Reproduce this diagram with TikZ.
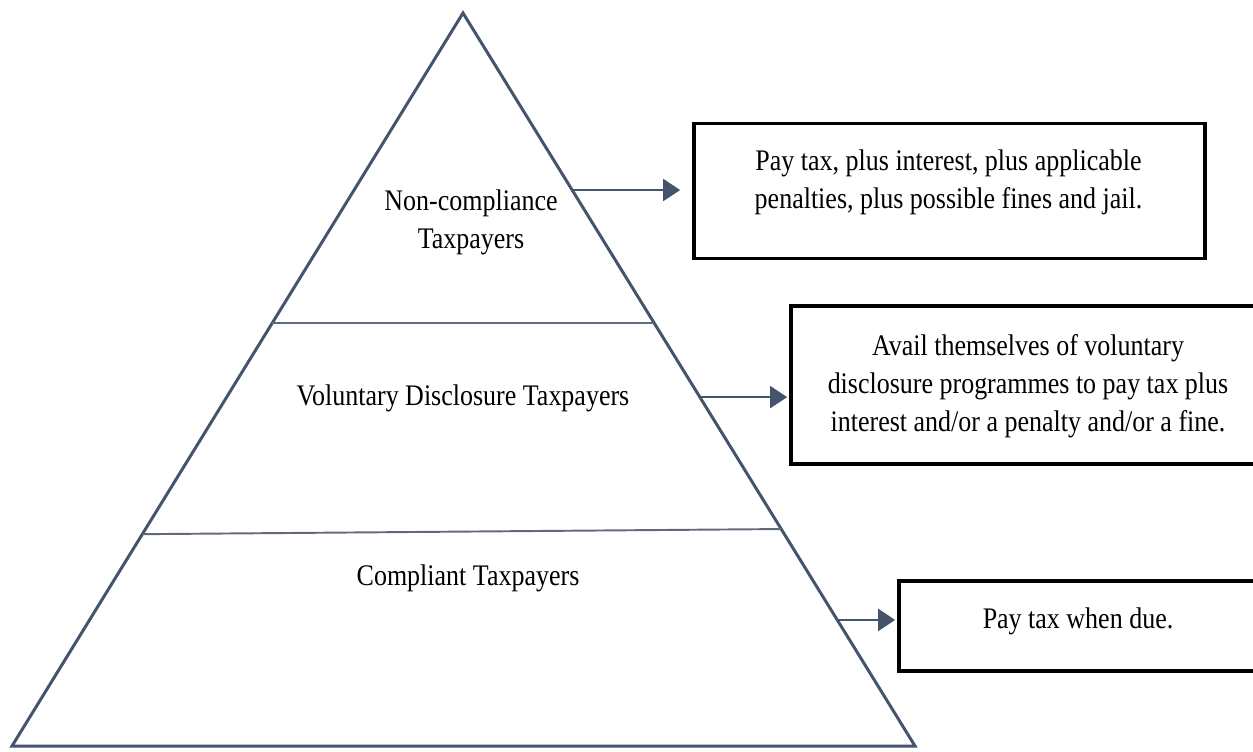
\documentclass[tikz,border=0pt]{standalone}
\usepackage{fontspec}
\setmainfont[FakeStretch=0.87]{Liberation Serif}
\usepackage{tikz}
\usetikzlibrary{positioning, arrows.meta, calc}
\definecolor{slate}{RGB}{68,84,106}
\definecolor{divide}{RGB}{96,106,120}

\begin{document}
\begin{tikzpicture}[x=0.02cm, y=-0.02cm,
  edge/.style={slate, line width=1.7pt, line join=miter},
  tier/.style={divide, line width=1.1pt},
  lab/.style={font=\fontsize{17}{21.5}\selectfont, align=center, inner sep=0pt},
  outbox/.style={draw=black, line width=2.1pt, inner sep=0pt},
  link/.style={slate, line width=1.2pt, -{Triangle[length=0.34cm, width=0.44cm]}}]
\useasboundingbox (0,0) rectangle (1253,751);
% pyramid
\coordinate (apex) at (463,13);
\coordinate (bl) at (12,746);
\coordinate (br) at (915,746);
\draw[edge] (bl) -- (apex) -- (br) -- cycle;
\coordinate (l1) at ($(apex)!0.423!(bl)$);
\coordinate (r1) at ($(apex)!0.423!(br)$);
\coordinate (l2) at ($(apex)!0.711!(bl)$);
\coordinate (r2) at ($(apex)!0.704!(br)$);
\draw[tier] (l1) -- (r1);
\draw[tier] (l2) -- (r2);
\node[lab] (nct) at (471,222) {Non-compliance\\Taxpayers};
\node[lab] (vdt) at (463,398) {Voluntary Disclosure Taxpayers};
\node[lab] (ct) at (468,578) {Compliant Taxpayers};
% outcome boxes
\node[outbox, minimum width=511*0.02cm, minimum height=135*0.02cm] (b1) at (949.5,191) {};
\node[lab] (t1) at (948.5,182) {Pay tax, plus interest, plus applicable\\penalties, plus possible fines and jail.};
\node[outbox, minimum width=471*0.02cm, minimum height=158*0.02cm] (b2) at (1026.5,385) {};
\node[lab] (t2) at (1028,386) {Avail themselves of voluntary\\disclosure programmes to pay tax plus\\interest and/or a penalty and/or a fine.};
\node[outbox, minimum width=363*0.02cm, minimum height=90*0.02cm] (b3) at (1080.5,626) {};
\node[lab] (t3) at (1078,621) {Pay tax when due.};
% arrows
\coordinate (a1) at ($(apex)!0.2415!(br)$);
\coordinate (a2) at ($(apex)!0.524!(br)$);
\coordinate (a3) at ($(apex)!0.828!(br)$);
\draw[link, shorten >=0.24cm] (a1) -- (a1 -| b1.west);
\draw[link, shorten >=0.04cm] (a2) -- (a2 -| b2.west);
\draw[link, shorten >=0.04cm] (a3) -- (a3 -| b3.west);
\end{tikzpicture}
\end{document}
